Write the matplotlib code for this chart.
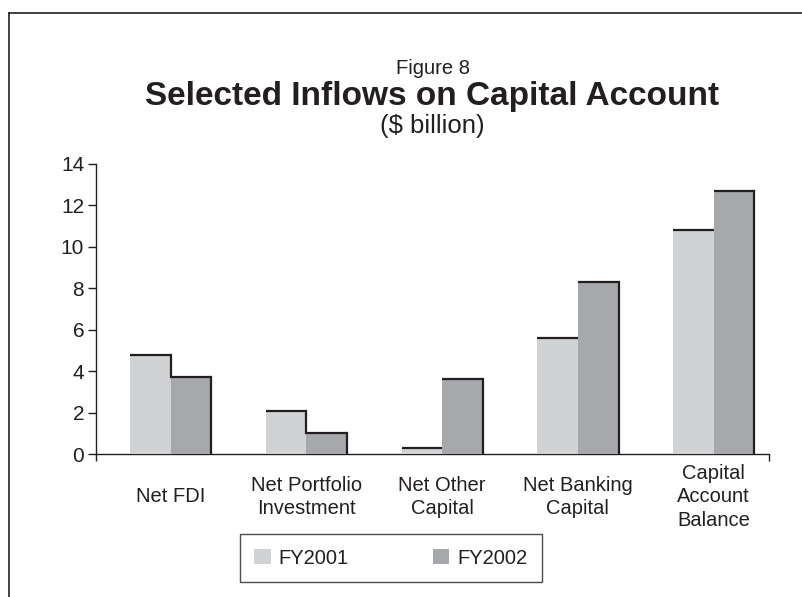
import matplotlib
matplotlib.use("Agg")
import matplotlib.pyplot as plt
from matplotlib.lines import Line2D

plt.rcParams['font.family'] = ['Liberation Sans', 'DejaVu Sans']

categories = ["Net FDI", "Net Portfolio\nInvestment", "Net Other\nCapital",
              "Net Banking\nCapital", "Capital\nAccount\nBalance"]
fy2001 = [4.8, 2.1, 0.3, 5.6, 10.8]
fy2002 = [3.7, 1.0, 3.6, 8.3, 12.7]
series_names = ["FY2001", "FY2002"]
yticks = [0, 2, 4, 6, 8, 10, 12, 14]

c2001 = "#d1d2d4"
c2002 = "#a7a8ab"
ink = "#231f20"

W, H = 802, 597
fig = plt.figure(figsize=(W / 100, H / 100), dpi=100)

# axes placed in pixel terms
ax_left, ax_right, ax_bottom, ax_top = 96, 769, 454, 164
ax = fig.add_axes([ax_left / W, (H - ax_bottom) / H,
                   (ax_right - ax_left) / W, (ax_bottom - ax_top) / H])

bw = 0.299
x = list(range(len(categories)))
x1 = [i - bw / 2 for i in x]
x2 = [i + bw / 2 for i in x]

ax.bar(x1, fy2001, width=bw, color=c2001, edgecolor="none", zorder=3,
       label=series_names[0])
ax.bar(x2, fy2002, width=bw, color=c2002, edgecolor="none", zorder=3,
       label=series_names[1])

# dark outline along the top and right side of each bar pair
lw = 1.6
for i in x:
    a, b = fy2001[i], fy2002[i]
    l1, r1 = x1[i] - bw / 2, x1[i] + bw / 2
    l2, r2 = x2[i] - bw / 2, x2[i] + bw / 2
    ax.plot([l1, r1], [a, a], color=ink, lw=lw, zorder=4,
            solid_capstyle="butt")
    if a > b:
        ax.plot([r1, r1], [a, b], color=ink, lw=lw, zorder=4,
                solid_capstyle="projecting")
    ax.plot([l2, r2], [b, b], color=ink, lw=lw, zorder=4,
            solid_capstyle="butt")
    ax.plot([r2, r2], [b, 0], color=ink, lw=lw, zorder=4,
            solid_capstyle="projecting")

xmin, xmax = -0.5486, 4.407
ax.set_xlim(xmin, xmax)
ax.set_ylim(0, 14)
ax.set_yticks(yticks)
ax.set_yticklabels([str(t) for t in yticks])
ax.set_xticks([xmin, xmax])
ax.set_xticklabels([])

for s in ("top", "right"):
    ax.spines[s].set_visible(False)
for s in ("left", "bottom"):
    ax.spines[s].set_color(ink)
    ax.spines[s].set_linewidth(1.0)
    ax.spines[s].set_zorder(2)

ax.tick_params(axis="y", direction="out", length=5.5, width=1.0, color=ink,
               pad=3, labelsize=15, labelcolor=ink)
ax.tick_params(axis="x", direction="out", length=5, width=1.0, color=ink)

# category labels under the axis
label_y = -(497 - ax_bottom) / (ax_bottom - ax_top)
for i, lab in enumerate(categories):
    ax.text(x[i], label_y, lab, transform=ax.get_xaxis_transform(),
            ha="center", va="center", fontsize=14.5, color=ink,
            linespacing=1.27, multialignment="center")

# titles
cx = (ax_left + ax_right) / 2 / W
fig.text(cx, 1 - 68 / H, "Figure 8", ha="center", va="center",
         fontsize=14.5, color=ink)
fig.text(cx, 1 - 96 / H, "Selected Inflows on Capital Account", ha="center",
         va="center", fontsize=24, fontweight="bold", color=ink)
fig.text(cx, 1 - 126 / H, "($ billion)", ha="center", va="center",
         fontsize=18.5, color=ink)

# legend
leg = fig.legend(loc="center", bbox_to_anchor=(391 / W, 1 - 558 / H),
                 ncol=2, frameon=True, fancybox=False, fontsize=14.5,
                 handlelength=0.8, handleheight=0.8, handletextpad=0.4,
                 columnspacing=4.2, borderpad=0.7, borderaxespad=0)
leg.get_frame().set_edgecolor(ink)
leg.get_frame().set_linewidth(1.0)
for t in leg.get_texts():
    t.set_color(ink)

# outer frame
fig.add_artist(Line2D([8.5 / W, 8.5 / W], [0, 1 - 13 / H], transform=fig.transFigure,
                      color=ink, lw=1.2))
fig.add_artist(Line2D([8.5 / W, 1], [1 - 13 / H, 1 - 13 / H], transform=fig.transFigure,
                      color=ink, lw=1.2))

fig.savefig("out.png", dpi=100, facecolor="white")
